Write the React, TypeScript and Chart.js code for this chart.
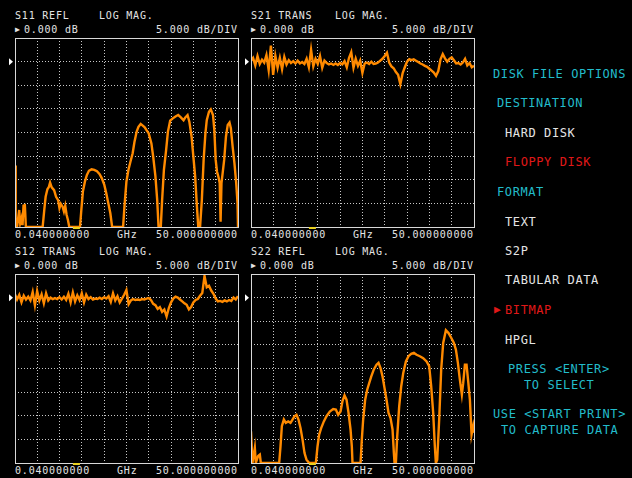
import React, { useEffect, useRef } from "react";
import { Chart, registerables } from "chart.js";

Chart.register(...registerables);

// ---- sweep / display settings ----
const START_GHZ = 0.04;
const STOP_GHZ = 50;
const REF_LEVEL_DB = 0;
const DB_PER_DIV = 5;
const TOP_DB = 5;
const BOTTOM_DB = -35;
const X_DIVS = 10;
const MARKER_GHZ = 13.8;

// ---- transmission traces (uniform sweep) ----
const SWEEP_GHZ = [
  0.04, 0.5, 1, 1.5, 2, 2.5, 3, 3.5, 4, 4.5,
  5, 5.5, 6, 6.5, 7, 7.5, 8, 8.5, 9, 9.5,
  10, 10.5, 11, 11.5, 12, 12.5, 13, 13.5, 14, 14.5,
  15, 15.5, 16, 16.5, 17, 17.5, 18, 18.5, 19, 19.5,
  20, 20.5, 21, 21.5, 22, 22.5, 23, 23.5, 24, 24.5,
  25, 25.5, 26, 26.5, 27, 27.5, 28, 28.5, 29, 29.5,
  30, 30.5, 31, 31.5, 32, 32.5, 33, 33.5, 34, 34.5,
  35, 35.5, 36, 36.5, 37, 37.5, 38, 38.5, 39, 39.5,
  40, 40.5, 41, 41.5, 42, 42.5, 43, 43.5, 44, 44.5,
  45, 45.5, 46, 46.5, 47, 47.5, 48, 48.5, 49, 49.5,
  50,
];

const S21_DB = [
  0.2, 0.8, -0.8, 1.2, -0.5, 0.4, -0.2, 1.4, -1.8, 3.4,
  -2.8, 1.2, -1.3, 0.8, -1.6, 1.0, -0.6, 0.3, -0.3, 0.1,
  -0.4, 0.2, -0.4, -0.1, -0.5, 0.6, -1.2, 2.5, -1.0, 0.6,
  -0.5, 1.2, -1.3, 0.2, -0.3, -0.6, -0.4, -0.7, -0.4, -0.7,
  -0.3, -0.6, 0.1, -1.2, 0.8, 2.0, -1.3, 0.6, -0.9, 0.2,
  -2.4, -0.4, -0.2, -0.5, 0.0, -0.5, -0.4, -0.2, 0.2, 0.6,
  1.2, 1.9, -0.2, -1.0, -1.4, -2.2, -2.8, -4.8, -2.5, -1.2,
  0.0, 0.5, 0.3, 0.5, 0.2, -0.1, -0.4, -0.6, -0.9, -1.1,
  -1.5, -1.9, -2.3, -3.0, -2.0, 0.5, 1.6, 0.7, 0.0, 0.6,
  0.9, 0.3, -0.4, -0.3, -0.6, -0.2, 0.6, -0.8, -0.3, -1.2,
  -0.9,
];

const S12_DB = [
  0.7, -0.4, 0.6, -1.0, 0.4, -0.4, 0.2, -0.6, 1.2, -1.6,
  1.4, -0.6, 0.7, -1.2, 0.9, -0.6, 0.0, -0.3, -0.1, -0.3,
  0.1, -0.4, 0.2, -0.5, 0.8, -1.0, 1.1, -0.8, 0.5, -0.5,
  0.9, -1.0, 0.6, -0.3, 0.1, -0.4, -0.2, -0.3, 0.0, -0.3,
  0.1, -0.2, 0.3, -0.9, 0.9, -0.6, 0.3, -1.0, -0.2, 0.6,
  1.6, -1.4, -0.6, -0.3, -0.5, -0.4, -0.5, -0.3, -0.4, -0.2,
  -0.1, -0.5, -1.3, -1.6, -2.4, -2.0, -3.0, -2.5, -4.0, -2.2,
  -1.0, -0.2, 0.2, 0.0, -0.4, -0.8, -1.2, -1.5, -2.5, -2.0,
  -1.0, -0.5, -0.3, 0.4, 1.0, 4.6, 2.2, 2.5, 1.5, 0.8,
  -0.2, -0.8, -0.7, -0.9, -0.6, -0.8, -0.5, -0.7, 0.0, -0.4,
  0.3,
];

// ---- reflection traces ----
const S11_GHZ = [
  0.04, 0.2, 0.53, 0.98, 1.2, 1.5, 1.73, 1.95, 2.25, 2.48,
  6.23, 6.6, 6.9, 7.3, 7.6, 7.9, 8.26, 8.8, 9.24, 9.7,
  10.0, 10.3, 10.7, 11.0, 11.3, 11.6, 11.9, 12.2, 14.6, 14.9,
  15.25, 15.7, 16.15, 16.6, 17.2, 17.8, 18.4, 19.0, 19.5, 20.05,
  20.5, 20.95, 21.4, 21.8, 24.26, 24.56, 25.0, 25.46, 25.9, 26.4,
  26.8, 27.3, 27.7, 28.2, 28.6, 29.1, 29.5, 30.0, 30.6, 31.0,
  31.5, 31.9, 32.2, 32.7, 33.0, 33.4, 33.9, 34.3, 34.8, 35.4,
  36.0, 36.6, 37.2, 37.8, 38.2, 38.7, 39.1, 39.6, 40.0, 40.4,
  40.8, 41.1, 41.5, 41.9, 42.3, 42.7, 43.0, 43.5, 43.9, 44.4,
  44.7, 45.0, 45.3, 45.6, 45.9, 46.1, 46.3, 46.6, 46.9, 47.3,
  47.7, 48.1, 48.4, 48.8, 49.2, 49.6, 49.9, 50,
];
const S11_DB = [
  -22, -35, -34.8, -31.4, -34.2, -33.1, -34.6, -30.5, -30.4, -35,
  -35, -31.4, -28.6, -27, -26.6, -25.6, -26.6, -27.2, -28.6, -29.3,
  -31, -30.1, -30.7, -31.7, -30.5, -32.4, -33.5, -35, -35, -31.4,
  -27.5, -25.4, -24, -23.1, -22.8, -22.9, -23.2, -23.8, -24.7, -26.1,
  -27.9, -30, -32.1, -35, -35, -30.7, -25.4, -22.9, -21.2, -19.4,
  -17, -14.8, -13.8, -13.2, -13.5, -13.9, -14.5, -15.2, -17.3, -20.1,
  -24.3, -29.3, -35, -35, -29.3, -22.9, -18.7, -14.8, -12.5, -12,
  -11.6, -11.3, -11.8, -12.4, -11.8, -11.3, -12.7, -15.9, -20.1, -24.3,
  -30.7, -35, -35, -29.3, -20.8, -15.2, -12.4, -10.6, -10.1, -11.3,
  -14.5, -20.8, -23.3, -24.3, -25.7, -33.9, -25.7, -23.3, -20.8, -15.9,
  -13.4, -12.9, -14.1, -18, -21.5, -25.7, -30, -35,
];

const S22_GHZ = [
  0.04, 0.37, 0.9, 1.12, 1.64, 2.02, 2.24, 6.35, 6.65, 6.95,
  7.4, 7.84, 8.37, 8.89, 9.34, 9.79, 10.23, 10.68, 11.13, 11.58,
  12.03, 12.47, 13.07, 14.57, 14.94, 15.31, 15.76, 16.36, 16.96, 17.7,
  18.45, 19.05, 19.57, 20.1, 20.54, 20.99, 21.44, 21.89, 22.34, 22.63,
  22.78, 24.58, 24.87, 25.17, 25.62, 26.07, 26.52, 26.97, 27.56, 28.16,
  28.61, 29.06, 29.51, 29.95, 30.4, 30.85, 31.3, 31.75, 32.05, 32.2,
  32.5, 32.8, 33.24, 33.69, 34.14, 34.74, 35.33, 35.93, 36.53, 37.13,
  37.87, 38.62, 39.37, 39.96, 40.41, 40.86, 41.23, 41.46, 41.76, 42.2,
  42.65, 43.1, 43.7, 44.3, 44.89, 45.49, 45.94, 46.39, 46.84, 47.28,
  47.58, 47.96, 48.33, 48.7, 49.08, 49.45, 49.82, 50,
];
const S22_DB = [
  -28.3, -35, -31.8, -35, -33.5, -33.2, -35, -35, -31.5, -27.2,
  -25.8, -26.5, -26.2, -26.5, -25.8, -25.1, -24.8, -25.8, -27.6, -30,
  -32.9, -34.3, -35, -35, -31.5, -29, -27.6, -26.2, -25.1, -24.1,
  -23.6, -23.7, -24.8, -24.1, -21.9, -20.7, -21.6, -24.4, -27.9, -31.5,
  -35, -35, -30, -25.8, -21.6, -19.5, -18.1, -16.7, -15.2, -14.2,
  -13.8, -14.9, -16.7, -19.1, -21.6, -24.4, -25.5, -27.9, -32.9, -35,
  -35, -29.3, -23, -18.8, -16, -13.5, -12.4, -11.9, -11.7, -12.1,
  -12.4, -12.8, -13.5, -14.5, -18.8, -24.4, -31.5, -35, -34.3, -25.8,
  -15.2, -9.6, -6.9, -7.5, -8.5, -9.6, -11, -13.8, -17.4, -20.5,
  -18.1, -14.2, -14.2, -17.7, -21.6, -29, -27.2, -28.6,
];

// ---- colours ----
const BG = "#000000";
const TRACE = "#ff8a00";
const GRID = "#c8c8c8";
const FRAME = "#d8d8d8";
const TEXT = "#e4e4e4";
const CYAN = "#22bccb";
const RED = "#e01818";
const MARK = "#e8d020";

const MONO = '"DejaVu Sans Mono", "Liberation Mono", monospace';

const framePlugin = {
  id: "vnaFrame",
  afterDraw(chart: any) {
    const { ctx, chartArea: a, scales } = chart;
    ctx.save();
    ctx.strokeStyle = FRAME;
    ctx.lineWidth = 1;
    ctx.strokeRect(a.left + 0.5, a.top + 0.5, a.right - a.left, a.bottom - a.top);
    const y0 = scales.y.getPixelForValue(REF_LEVEL_DB);
    ctx.fillStyle = "#ffffff";
    ctx.beginPath();
    ctx.moveTo(a.left - 6, y0 - 3.5);
    ctx.lineTo(a.left - 6, y0 + 3.5);
    ctx.lineTo(a.left - 2, y0);
    ctx.closePath();
    ctx.fill();
    const xm = scales.x.getPixelForValue(MARKER_GHZ);
    ctx.fillStyle = MARK;
    ctx.fillRect(xm - 3.5, a.bottom, 7, 2);
    ctx.restore();
  },
};

type TraceProps = { left: number; top: number; freqs: number[]; values: number[] };

const PLOT_W = 223;
const PLOT_H = 189;

function Trace({ left, top, freqs, values }: TraceProps) {
  const ref = useRef<HTMLCanvasElement | null>(null);
  useEffect(() => {
    const canvas = ref.current;
    if (!canvas) return;
    const gridOpts = { color: GRID, lineWidth: 1, drawTicks: false };
    const borderOpts = { display: false, dash: [1, 2] };
    const chart = new Chart(canvas, {
      type: "line",
      data: {
        datasets: [
          {
            data: freqs.map((f, i) => ({ x: f, y: values[i] })),
            borderColor: TRACE,
            borderWidth: 2.4,
            pointRadius: 0,
            tension: 0,
            fill: false,
          },
        ],
      },
      options: {
        animation: false,
        responsive: false,
        events: [],
        layout: { padding: { left: 8, right: 2, top: 2, bottom: 2 } },
        plugins: { legend: { display: false }, tooltip: { enabled: false } },
        scales: {
          x: {
            type: "linear",
            min: START_GHZ,
            max: STOP_GHZ,
            afterBuildTicks: (s: any) => {
              const step = (STOP_GHZ - START_GHZ) / X_DIVS;
              s.ticks = Array.from({ length: X_DIVS + 1 }, (_, k) => ({ value: START_GHZ + k * step }));
            },
            ticks: { display: false },
            grid: gridOpts,
            border: borderOpts,
          },
          y: {
            min: BOTTOM_DB,
            max: TOP_DB,
            ticks: { display: false, stepSize: DB_PER_DIV },
            grid: gridOpts,
            border: borderOpts,
          },
        },
      } as any,
      plugins: [framePlugin],
    });
    return () => chart.destroy();
  }, [freqs, values]);
  const w = PLOT_W + 10;
  const h = PLOT_H + 4;
  return (
    <canvas
      ref={ref}
      width={w}
      height={h}
      style={{ position: "absolute", left: left - 8, top: top - 2, width: w, height: h }}
    />
  );
}

function T({ x, y, children, color = TEXT, size = 10, ls = 0.8 }: any) {
  const lh = size + 2;
  return (
    <div
      style={{
        position: "absolute",
        left: x,
        top: y - Math.round(lh / 2),
        fontFamily: MONO,
        fontSize: size,
        lineHeight: `${lh}px`,
        letterSpacing: ls,
        color,
        whiteSpace: "pre",
      }}
    >
      {children}
    </div>
  );
}

function Panel({ left, top, title, freqs, values }: any) {
  const right = left + PLOT_W;
  const bottom = top + PLOT_H;
  return (
    <>
      <T x={left} y={top - 22}>{title}</T>
      <T x={left + 84} y={top - 22}>LOG MAG.</T>
      <T x={left} y={top - 8} size={8} ls={0}>▶</T>
      <T x={left + 9} y={top - 8}>0.000 dB</T>
      <T x={right - 82} y={top - 8}>5.000 dB/DIV</T>
      <Trace left={left} top={top} freqs={freqs} values={values} />
      <T x={left} y={bottom + 8}>0.040000000</T>
      <T x={left + 102} y={bottom + 8}>GHz</T>
      <T x={right - 82} y={bottom + 8}>50.000000000</T>
    </>
  );
}

export default function App() {
  return (
    <div
      style={{
        position: "fixed",
        left: 0,
        top: 0,
        width: 632,
        height: 478,
        background: BG,
        overflow: "hidden",
      }}
    >
      <Panel left={15} top={38} title="S11 REFL" freqs={S11_GHZ} values={S11_DB} />
      <Panel left={251} top={38} title="S21 TRANS" freqs={SWEEP_GHZ} values={S21_DB} />
      <Panel left={15} top={274} title="S12 TRANS" freqs={SWEEP_GHZ} values={S12_DB} />
      <Panel left={251} top={274} title="S22 REFL" freqs={S22_GHZ} values={S22_DB} />

      <T x={493} y={74} color={CYAN} size={12} ls={0.6}>DISK FILE OPTIONS</T>
      <T x={497} y={103} color={CYAN} size={12} ls={0.6}>DESTINATION</T>
      <T x={505} y={133} color={TEXT} size={12} ls={0.6}>HARD DISK</T>
      <T x={505} y={162} color={RED} size={12} ls={0.6}>FLOPPY DISK</T>
      <T x={497} y={192} color={CYAN} size={12} ls={0.6}>FORMAT</T>
      <T x={505} y={222} color={TEXT} size={12} ls={0.6}>TEXT</T>
      <T x={505} y={251} color={TEXT} size={12} ls={0.6}>S2P</T>
      <T x={505} y={280} color={TEXT} size={12} ls={0.6}>TABULAR DATA</T>
      <T x={494} y={310} color={RED} size={11} ls={0}>▶</T>
      <T x={505} y={310} color={RED} size={12} ls={0.6}>BITMAP</T>
      <T x={505} y={340} color={TEXT} size={12} ls={0.6}>HPGL</T>
      <T x={508} y={369} color={CYAN} size={12} ls={0.6}>PRESS &lt;ENTER&gt;</T>
      <T x={524} y={385} color={CYAN} size={12} ls={0.6}>TO SELECT</T>
      <T x={493} y={414} color={CYAN} size={12} ls={0.6}>USE &lt;START PRINT&gt;</T>
      <T x={501} y={430} color={CYAN} size={12} ls={0.6}>TO CAPTURE DATA</T>
    </div>
  );
}
